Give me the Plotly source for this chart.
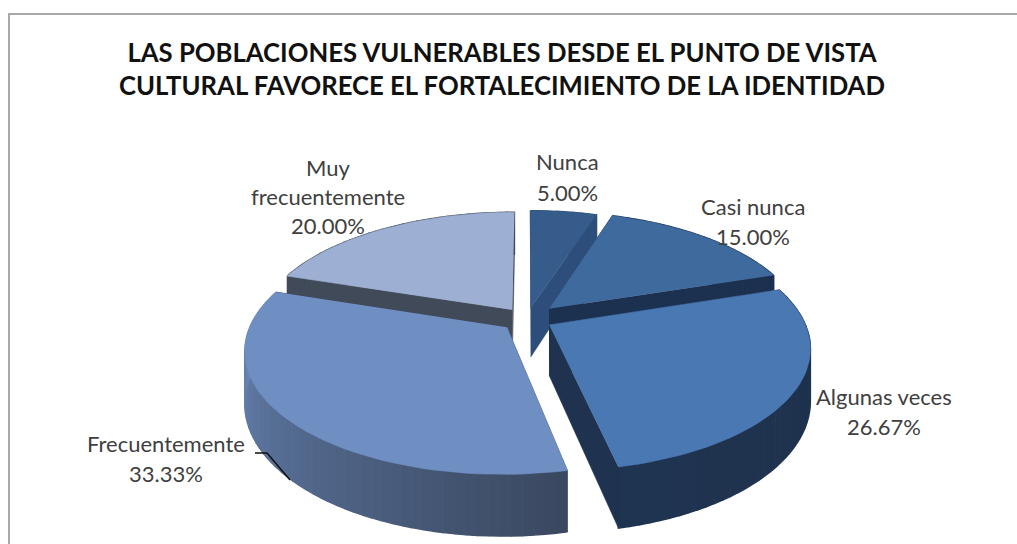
import numpy as np
import plotly.graph_objects as go

TITLE_LINES = ["LAS POBLACIONES VULNERABLES DESDE EL PUNTO DE VISTA",
               "CULTURAL FAVORECE EL FORTALECIMIENTO DE LA IDENTIDAD"]
categories = ["Nunca", "Casi nunca", "Algunas veces", "Frecuentemente", "Muy frecuentemente"]
values = [5.00, 15.00, 26.67, 33.33, 20.00]

# styling per slice: top, cut-face, rim gradient start / end (clockwise)
top_colors = ["#365C8C", "#3F6A9E", "#4A78B2", "#6F8FC2", "#9DB0D3"]
cut_colors = ["#2D4E7A", "#1C3050", "#1F3350", "#3A4860", "#414A58"]
rim_start = ["#2D4E7A", "#1C3050", "#1E314D", "#3A4860", "#414A58"]
rim_end = ["#2D4E7A", "#1C3050", "#1F3450", "#6F8FC2", "#414A58"]
pull = [0.1, 0.125, 0.1, 0.105, 0.1]

# 3D projection parameters, in canvas pixels
CX, CY, R, A, B, DEPTH = 527, 319, 254, 117.7, 0.177, 50
W, H = 1017, 544


def hex_rgb(c):
    return np.array([int(c[i:i + 2], 16) for i in (1, 3, 5)], float)


def mix(c1, c2, f):
    v = hex_rgb(c1) * (1 - f) + hex_rgb(c2) * f
    return "rgb(%d,%d,%d)" % tuple(v.round())


def project(X, Z, lower=False):
    d = 1 - B * Z
    return CX + R * X / d, CY + A * Z / d + (DEPTH / d if lower else 0)


def poly(fig, xs, ys, color, lw=0.6):
    fig.add_trace(go.Scatter(x=list(xs), y=list(ys), mode="lines", fill="toself",
                             fillcolor=color, line=dict(color=color, width=lw),
                             hoverinfo="skip", showlegend=False))


fig = go.Figure()
total = sum(values)
edges = np.concatenate([[0], np.cumsum(values)]) / total * 2 * np.pi
wedges = []
for i in range(len(values)):
    t0, t1 = edges[i], edges[i + 1]
    m = (t0 + t1) / 2
    wedges.append((i, t0, t1, pull[i] * np.sin(m), -pull[i] * np.cos(m)))

# painter's order: back slices first
for i, t0, t1, ox, oz in [wedges[j] for j in (4, 0, 1, 2, 3)]:
    ts = np.linspace(t0, t1, max(6, int((t1 - t0) / np.radians(2))))
    X = ox + np.sin(ts)
    Z = oz - np.cos(ts)
    # cut faces
    for k in (0, -1):
        pts = [project(ox, oz), project(X[k], Z[k]), project(X[k], Z[k], True), project(ox, oz, True)]
        poly(fig, [p[0] for p in pts], [p[1] for p in pts], cut_colors[i])
    # outer rim, drawn as narrow strips so it can carry a gradient
    for k in range(len(ts) - 1):
        pts = [project(X[k], Z[k]), project(X[k + 1], Z[k + 1]),
               project(X[k + 1], Z[k + 1], True), project(X[k], Z[k], True)]
        poly(fig, [p[0] for p in pts], [p[1] for p in pts],
             mix(rim_start[i], rim_end[i], k / (len(ts) - 2)), lw=1.4)
    # top face
    px, py = project(np.r_[ox, X], np.r_[oz, Z])
    poly(fig, px, py, top_colors[i])

# data labels
label_lines = [
    [categories[0], f"{values[0]:.2f}%"],
    [categories[1], f"{values[1]:.2f}%"],
    [categories[2], f"{values[2]:.2f}%"],
    [categories[3], f"{values[3]:.2f}%"],
    ["Muy", "frecuentemente", f"{values[4]:.2f}%"],
]
label_x = [567, 753, 884, 166, 328]
label_y = [[161, 192], [206, 236], [396, 426], [443, 473], [167, 196, 225]]
annotations = []
for lines, lx, ys in zip(label_lines, label_x, label_y):
    for line, ly in zip(lines, ys):
        annotations.append(dict(x=lx, y=ly, text=line, showarrow=False, xanchor="center", yanchor="middle",
                                xref="x", yref="y", font=dict(family="Lato", size=22, color="#404040")))

shapes = [
    dict(type="rect", x0=9, y0=14, x1=1040, y1=570, line=dict(color="#A8A8A8", width=2), fillcolor="rgba(0,0,0,0)", layer="below"),
    dict(type="path", path="M 255 453 L 267 453 L 290 480", line=dict(color="#111111", width=1.5)),
]

fig.update_layout(
    width=W, height=H, autosize=False,
    margin=dict(l=0, r=0, t=0, b=0),
    paper_bgcolor="white", plot_bgcolor="white",
    xaxis=dict(range=[0, W], visible=False, fixedrange=True),
    yaxis=dict(range=[H, 0], visible=False, fixedrange=True),
    showlegend=False,
    title=dict(text="<br>".join(TITLE_LINES), x=502 / W, xanchor="center", y=1 - 62 / H, yanchor="middle",
               font=dict(family="Lato", size=25.7, color="#111111", weight="bold")),
    annotations=annotations, shapes=shapes,
)
fig.write_html("out.html", config=dict(displayModeBar=False),
               post_script="document.body.style.margin='0';document.body.style.overflow='hidden';")
